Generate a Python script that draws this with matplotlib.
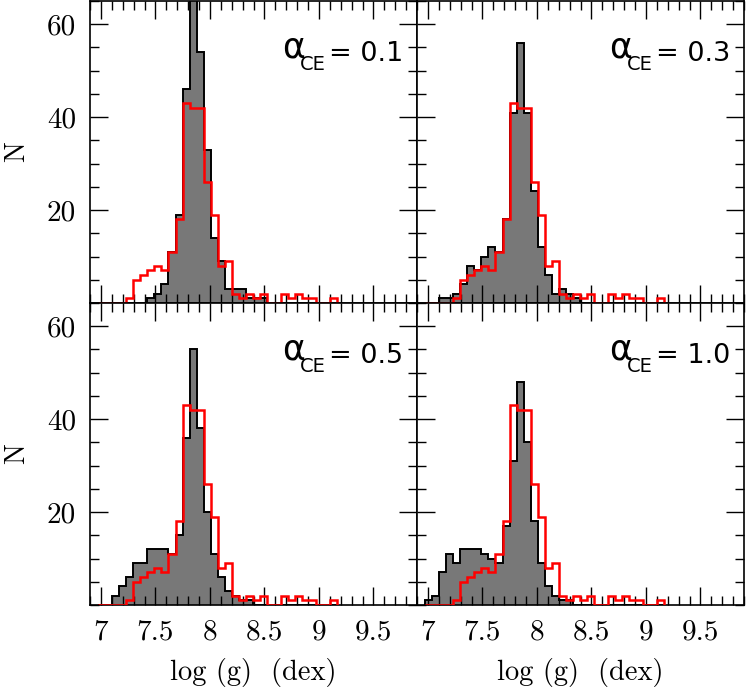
import numpy as np
import matplotlib
matplotlib.use('Agg')
import matplotlib.pyplot as plt
from matplotlib.ticker import MultipleLocator

plt.rcParams['font.family'] = 'cmr10'
plt.rcParams['axes.formatter.use_mathtext'] = True

# ── Data ──────────────────────────────────────────────────────────────────────
# common log(g) bins: first left edge and width
bin_start = 6.974
bin_width = 0.0646

# observed sample (red outline), same in every panel
observed = [0, 0, 0, 0,
            1, 5, 6, 7, 8, 7, 11, 18, 43, 42, 42, 26, 19, 8, 9, 2,
            1, 2, 1, 2, 0, 0, 2, 1, 2, 1, 1, 0, 0, 1]

# simulated populations (grey filled), one per alpha_CE
sim_01 = [0, 0, 0, 0,
          0, 0, 0, 1, 2, 4, 11, 19, 46, 67, 54, 33, 14, 9, 3, 3,
          3, 1, 1, 1, 0, 0, 0, 0, 0, 0, 0, 0, 0, 0]
sim_03 = [0, 0, 1, 1,
          2, 4, 8, 7, 10, 12, 11, 18, 41, 56, 41, 24, 12, 6, 2, 3,
          2, 1, 0, 0, 0, 0, 0, 0, 0, 0, 0, 0, 0, 0]
sim_05 = [0, 0, 2, 4,
          6, 9, 9, 12, 12, 12, 11, 15, 36, 55, 38, 20, 11, 6, 3, 2,
          1, 1, 0, 0, 0, 0, 0, 0, 0, 0, 0, 0, 0, 0]
sim_10 = [1, 2, 7, 11,
          9, 12, 12, 12, 11, 10, 9, 17, 31, 48, 35, 18, 9, 4, 2, 1,
          1, 0, 0, 0, 0, 0, 0, 0, 0, 0, 0, 0, 0, 0]

panel_sims   = [sim_01, sim_03, sim_05, sim_10]
panel_labels = ['0.1', '0.3', '0.5', '1.0']

xtick_vals   = [7, 7.5, 8, 8.5, 9, 9.5]
xtick_labels = ['7', '7.5', '8', '8.5', '9', '9.5']
ytick_vals   = [20, 40, 60]
ytick_labels = ['20', '40', '60']

edges = bin_start + bin_width * np.arange(len(observed) + 1)

# ── Figure ────────────────────────────────────────────────────────────────────
fig = plt.figure(figsize=(7.47, 6.90), dpi=100)

W, H = 747, 690
left_px = [90, 417]
top_px = [1, 303]
pw, ph = 327, 302

for i, sim in enumerate(panel_sims):
    row, col = divmod(i, 2)
    x0 = left_px[col] / W
    y0 = (H - top_px[row] - ph) / H
    ax = fig.add_axes([x0, y0, pw / W, ph / H])

    ax.stairs(sim, edges, fill=True, color='#787878', zorder=1)
    ax.stairs(sim, edges, color='black', linewidth=1.4, zorder=2)
    ax.stairs(observed, edges, color='red', linewidth=1.8, zorder=3)

    ax.set_xlim(6.9, 9.9)
    ax.set_ylim(0, 65)

    ax.set_xticks(xtick_vals)
    ax.xaxis.set_minor_locator(MultipleLocator(0.1))
    ax.set_yticks(ytick_vals)
    ax.yaxis.set_minor_locator(MultipleLocator(5))
    ax.tick_params(which='both', direction='in', top=True, right=True, width=1.0)
    ax.tick_params(which='major', length=13)
    ax.tick_params(which='minor', length=6.5)
    ax.tick_params(axis='x', pad=10)
    ax.tick_params(axis='y', pad=10)
    for sp in ax.spines.values():
        sp.set_linewidth(1.2)

    if row == 1:
        ax.set_xticklabels(xtick_labels, fontsize=21)
        ax.set_xlabel('log (g)  (dex)', fontsize=20.5, labelpad=9)
    else:
        ax.set_xticklabels([])
    if col == 0:
        ax.set_yticklabels(ytick_labels, fontsize=21)
        ax.set_ylabel('N', fontsize=20, labelpad=12)
    else:
        ax.set_yticklabels([])

    # alpha_CE label, built from three pieces so the subscript sits low
    kw = dict(transform=ax.transAxes, va='baseline', family='DejaVu Sans')
    ax.text(0.588, 0.812, 'α', ha='left', fontsize=25, **kw)
    ax.text(0.643, 0.772, 'CE', ha='left', fontsize=14, **kw)
    ax.text(0.732, 0.800, '= ' + panel_labels[i], ha='left', fontsize=19.5, **kw)

fig.savefig('out.png', dpi=100)
